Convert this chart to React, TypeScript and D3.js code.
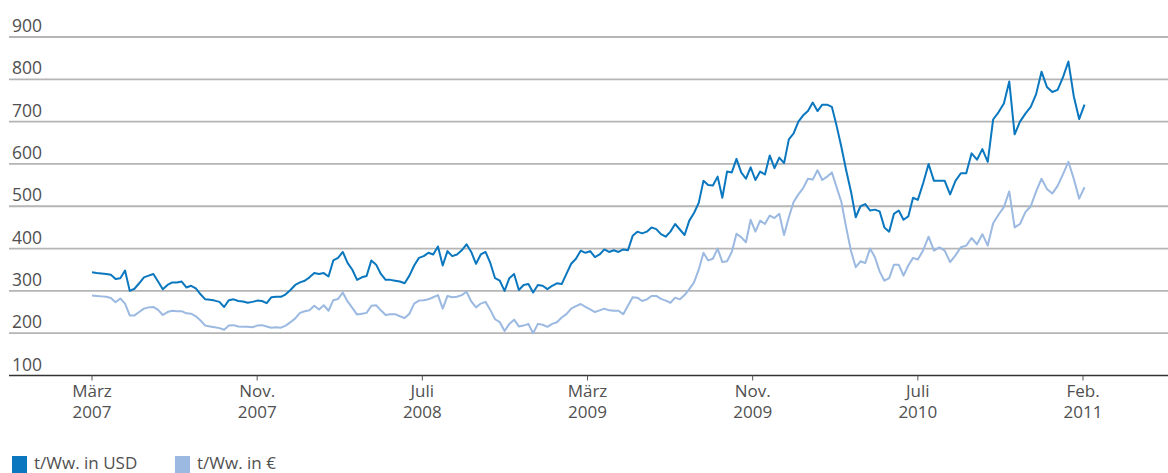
import * as d3 from "d3";

// weekly readings, first week starting 1 March 2007
const startDate = new Date(2007, 2, 1);

const usdValues = [
  344, 342, 341, 340, 338, 328, 330, 348, 300, 305, 318, 332, 336, 340, 322, 304, 314, 320, 320, 322,
  308, 312, 306, 292, 280, 279, 277, 274, 262, 278, 280, 276, 275, 272, 274, 277, 276, 271, 285, 286,
  286, 292, 302, 314,
  320, 324, 332, 342, 340, 342, 334, 372, 378, 392, 366, 350, 326, 332, 335, 372, 362, 340, 326, 326,
  324, 322, 318, 336, 360, 378, 382, 390, 386, 405, 360, 394, 382, 386, 396, 410, 392, 364, 386, 392,
  366, 330,
  324, 300, 330, 340, 302, 314, 316, 296, 314, 312, 304, 312, 318, 316, 340, 364, 376, 395, 390, 394,
  380, 386, 398, 392, 396, 392, 398, 396, 430, 440, 436, 440, 450, 446, 434, 428, 440, 458, 445, 432,
  466, 484, 508,
  560, 550, 549, 570, 520, 582, 580, 612, 580, 565, 592, 562, 582, 575, 620, 590, 615, 602, 658, 672,
  700, 715, 725, 745, 725, 740, 740, 735, 690, 640, 585, 535, 474, 500, 505, 490, 492, 488, 450, 440,
  482, 490, 468, 476, 520, 515, 555, 600, 560, 560, 560, 528, 560, 578, 578, 625, 610, 635, 605, 705,
  722, 743, 795, 670, 700, 719, 735, 765, 818, 782, 770, 775, 805, 842, 760, 706, 740,
];

const eurValues = [
  289, 288, 287, 286, 283, 273, 282, 270, 242, 242, 250, 258, 261, 262, 255, 243, 250, 253, 252, 252,
  247, 246, 240, 230, 218, 216, 214, 212, 208, 218, 219, 216, 215, 215, 214, 218, 219, 216, 213, 214,
  213, 218, 226, 235,
  248, 252, 254, 265, 256, 266, 253, 278, 281, 296, 275, 260, 244, 246, 248, 265, 266, 254, 243, 245,
  245, 240, 236, 246, 270, 277, 278, 280, 285, 290, 258, 288, 285, 286, 290, 298, 275, 261, 270, 274,
  255, 233,
  226, 205, 222, 232, 216, 218, 222, 200, 222, 220, 215, 222, 226, 237, 245, 258, 264, 269, 262, 256,
  250, 254, 258, 254, 253, 253, 245, 265, 285, 284, 276, 280, 288, 288, 281, 277, 272, 284, 280, 290,
  304, 320, 350,
  390, 372, 376, 400, 368, 370, 392, 435, 427, 415, 468, 440, 466, 458, 478, 472, 482, 432, 474, 510,
  528, 543, 565, 563, 585, 562, 570, 580, 545, 510, 450, 395, 356, 370, 366, 400, 380, 346, 324, 330,
  362, 362, 336, 360, 378, 374, 396, 428, 395, 403, 395, 368, 384, 403, 407, 425, 410, 434, 407, 460,
  480, 498, 535, 450, 458, 486, 500, 535, 565, 541, 530, 548, 576, 605, 565, 518, 545,
];

const tickDates = [
  new Date(2007, 2, 1),
  new Date(2007, 10, 1),
  new Date(2008, 6, 1),
  new Date(2009, 2, 1),
  new Date(2009, 10, 1),
  new Date(2010, 6, 1),
  new Date(2011, 1, 1),
];
const tickMonths = ["März", "Nov.", "Juli", "März", "Nov.", "Juli", "Feb."];
const tickYears = ["2007", "2007", "2008", "2009", "2009", "2010", "2011"];
const yTicks = [100, 200, 300, 400, 500, 600, 700, 800, 900];

const seriesNames = ["t/Ww. in USD", "t/Ww. in €"];
const seriesColors = ["#0a77bf", "#9bb9e1"];

const width = 1168;
const height = 473;
const gridLeft = 9;
const firstTickX = 92;
const lastTickX = 1083;
const fontFamily = "'Open Sans', 'Noto Sans', sans-serif";
const textColor = "#505050";

const App = () => {
  const dates = usdValues.map((_, i) => d3.timeDay.offset(startDate, i * 7));

  // the axis labels sit at even spacing, so the time scale is piecewise between them
  const tickPos = d3.scaleLinear().domain([0, tickDates.length - 1]).range([firstTickX, lastTickX]);
  const xScale = d3
    .scaleTime()
    .domain(tickDates)
    .range(tickDates.map((_, i) => tickPos(i)));

  const yScale = d3.scaleLinear().domain([100, 900]).range([375.5, 37]);

  const line = d3
    .line<number>()
    .x((_, i) => xScale(dates[i]))
    .y((d) => yScale(d));

  const grid = yTicks.map((v) => (
    <g key={v}>
      {v > 100 && (
        <line
          x1={gridLeft}
          x2={width}
          y1={yScale(v)}
          y2={yScale(v)}
          stroke="#b5b5b5"
          strokeWidth={1.8}
        />
      )}
      <text x={12} y={yScale(v) - 5} fontSize={17.5} fill={textColor}>
        {v}
      </text>
    </g>
  ));

  const xAxis = tickDates.map((d, i) => (
    <g key={i}>
      <line
        x1={xScale(d)}
        x2={xScale(d)}
        y1={yScale(100)}
        y2={yScale(100) + 5}
        stroke="#555"
        strokeWidth={1}
      />
      <text x={xScale(d)} y={397} textAnchor="middle" fontSize={17} fill={textColor}>
        {tickMonths[i]}
      </text>
      <text x={xScale(d)} y={418} textAnchor="middle" fontSize={17} fill={textColor}>
        {tickYears[i]}
      </text>
    </g>
  ));

  const legendX = [12, 175];

  return (
    <svg
      width={width}
      height={height}
      style={{ position: "absolute", left: 0, top: 0, background: "#fff" }}
      fontFamily={fontFamily}
    >
      {grid}
      <line
        x1={gridLeft}
        x2={width}
        y1={yScale(100)}
        y2={yScale(100)}
        stroke="#333"
        strokeWidth={1.6}
      />
      {xAxis}
      <path
        d={line(eurValues) || ""}
        fill="none"
        stroke={seriesColors[1]}
        strokeWidth={2}
        strokeLinejoin="round"
      />
      <path
        d={line(usdValues) || ""}
        fill="none"
        stroke={seriesColors[0]}
        strokeWidth={2}
        strokeLinejoin="round"
      />
      {seriesNames.map((name, i) => (
        <g key={name}>
          <rect x={legendX[i]} y={456} width={15} height={17} fill={seriesColors[i]} />
          <text x={legendX[i] + 22} y={469} fontSize={17} fill={textColor}>
            {name}
          </text>
        </g>
      ))}
    </svg>
  );
};

export default App;
